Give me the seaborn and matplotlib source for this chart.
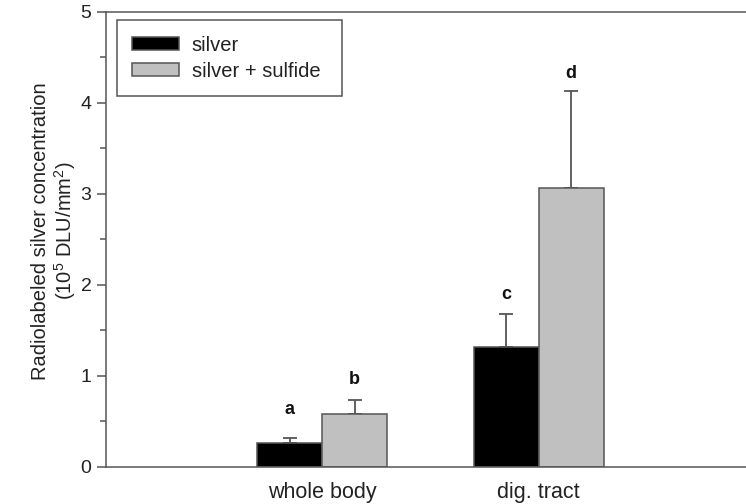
import matplotlib
matplotlib.use("Agg")
import matplotlib.pyplot as plt
import seaborn as sns
import pandas as pd

# Mean radiolabeled silver concentration (10^5 DLU/mm^2) and upper error
tissues = ["whole body", "dig. tract"]
treatments = ["silver", "silver + sulfide"]
silver_mean = [0.26, 1.31]
silver_err = [0.05, 0.37]
sulfide_mean = [0.58, 3.06]
sulfide_err = [0.15, 1.07]
sig_letters = [["a", "c"], ["b", "d"]]

sns.set_theme(style="white")
plt.rcParams["font.family"] = ["Liberation Sans", "DejaVu Sans"]
plt.rcParams["mathtext.fontset"] = "custom"
plt.rcParams["mathtext.rm"] = "Liberation Sans"
plt.rcParams["mathtext.it"] = "Liberation Sans:italic"
plt.rcParams["mathtext.bf"] = "Liberation Sans:bold"

df = pd.DataFrame({
    "tissue": tissues * 2,
    "treatment": [treatments[0]] * len(tissues) + [treatments[1]] * len(tissues),
    "conc": silver_mean + sulfide_mean,
})
errs = [silver_err, sulfide_err]

fig = plt.figure(figsize=(7.46, 5.04), dpi=100)
ax = fig.add_axes([106 / 746, 1 - 466.5 / 504, (755 - 106) / 746, (466.5 - 11.5) / 504])

line_col = "#555555"
text_col = "#222222"

sns.barplot(data=df, x="tissue", y="conc", hue="treatment", order=tissues,
            hue_order=treatments, palette=["#000000", "#c0c0c0"], width=0.6,
            edgecolor=line_col, linewidth=1.1, errorbar=None, ax=ax, zorder=2)

bar_groups = list(ax.containers)[:len(treatments)]
letter_offsets = [[0.22, 0.12], [0.13, 0.10]]
for k, cont in enumerate(bar_groups):
    for j, bar in enumerate(cont.patches):
        xc = bar.get_x() + bar.get_width() / 2
        h = bar.get_height()
        e = errs[k][j]
        ax.errorbar(xc, h, yerr=[[0], [e]], fmt="none", ecolor=line_col,
                    elinewidth=1.3, capsize=5, capthick=1.3, zorder=1)
        ax.text(xc, h + e + letter_offsets[k][j], sig_letters[k][j],
                ha="center", va="bottom", fontsize=13, fontweight="bold",
                color="#111111")

ax.set_xlim(-1, 2)
ax.set_ylim(0, 5)
ax.set_yticks([0, 1, 2, 3, 4, 5])
ax.set_yticks([0.5, 1.5, 2.5, 3.5, 4.5], minor=True)
ax.tick_params(axis="y", which="major", direction="out", length=6.5, width=1.1,
               color=line_col, labelsize=14, labelcolor=text_col, pad=4, left=True)
ax.tick_params(axis="y", which="minor", direction="out", length=4.3, width=1.1,
               color=line_col, left=True)
ax.tick_params(axis="x", length=0, pad=11, labelsize=15.5, labelcolor=text_col)

for side in ["left", "bottom", "top", "right"]:
    ax.spines[side].set_visible(True)
    ax.spines[side].set_color(line_col)
    ax.spines[side].set_linewidth(1.1)

ax.set_xlabel("")
ax.set_ylabel("Radiolabeled silver concentration\n(10$^{5}$ DLU/mm$^{2}$)",
              fontsize=14.5, color=text_col, linespacing=1.1)
ax.yaxis.set_label_coords(-0.0432, 0.5176)

handles, labels = ax.get_legend_handles_labels()
ax.legend(handles, labels, loc="upper left", mode="expand",
          bbox_to_anchor=(117 / 746, 1 - 21 / 504, (342 - 117) / 746, 0.001),
          bbox_transform=fig.transFigure,
          frameon=True, fancybox=False, fontsize=14.5, handlelength=2.35,
          handleheight=0.65, labelspacing=0.35, handletextpad=0.6,
          borderpad=0.75, borderaxespad=0, edgecolor=line_col, labelcolor=text_col)
leg = ax.get_legend()
leg.get_frame().set_linewidth(1.1)
leg.get_frame().set_alpha(1)

fig.savefig("out.png", dpi=100)
